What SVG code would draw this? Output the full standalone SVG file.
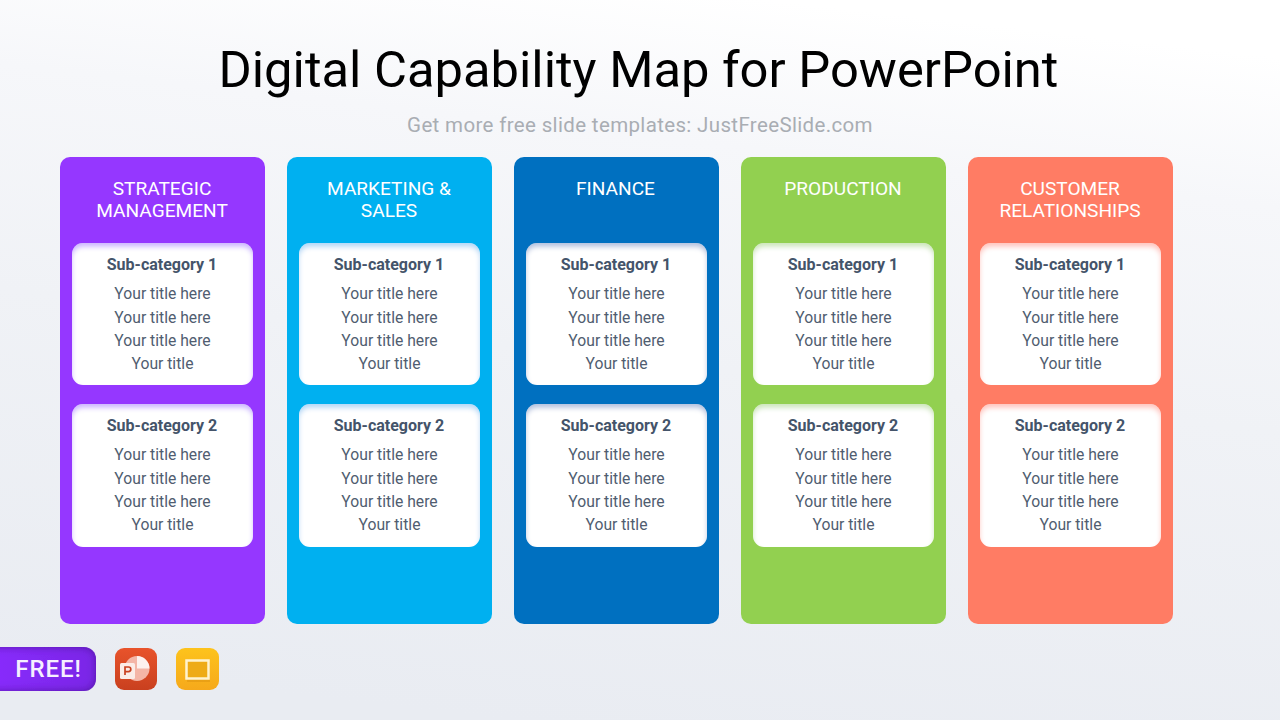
<svg xmlns="http://www.w3.org/2000/svg" width="1280" height="720" viewBox="0 0 1280 720">
<style>
text{font-family:Roboto,"Liberation Sans",sans-serif;text-anchor:middle}
.title{font-size:50.7px;fill:#000}
.sub{font-size:20.5px;fill:#a9adb3;letter-spacing:.35px}
.head{font-size:19.1px;fill:#fff}
.cat{font-size:16px;font-weight:700;fill:#44546a}
.item{font-size:15.7px;fill:#505d70}
.card{fill:#fff}
</style>
<defs>
<linearGradient id="bg" x1=".6" y1="0" x2=".4" y2="1"><stop offset="0" stop-color="#ffffff"/><stop offset=".2" stop-color="#f6f7fa"/><stop offset=".5" stop-color="#f0f2f6"/><stop offset="1" stop-color="#e9ecf2"/></linearGradient>
<linearGradient id="free" x1="0" y1="0" x2="1" y2="0"><stop offset="0" stop-color="#8a2cff"/><stop offset="1" stop-color="#7a26e6"/></linearGradient>
<linearGradient id="pp" x1="0" y1="0" x2="0" y2="1"><stop offset="0" stop-color="#e8532b"/><stop offset="1" stop-color="#c9401f"/></linearGradient>
<linearGradient id="gs" x1="0" y1="0" x2="0" y2="1"><stop offset="0" stop-color="#fdc31c"/><stop offset="1" stop-color="#f6a91b"/></linearGradient>
<filter id="s1" x="-5%" y="-5%" width="110%" height="110%"><feGaussianBlur in="SourceAlpha" stdDeviation="2.500"/><feOffset dy="3.500"/><feComposite in="SourceAlpha" operator="out" result="e"/><feFlood flood-color="#9537ff" flood-opacity=".55"/><feComposite in2="e" operator="in"/><feComposite in2="SourceGraphic" operator="over"/></filter>
<filter id="s2" x="-5%" y="-5%" width="110%" height="110%"><feGaussianBlur in="SourceAlpha" stdDeviation="2.500"/><feOffset dy="3.500"/><feComposite in="SourceAlpha" operator="out" result="e"/><feFlood flood-color="#00b0f0" flood-opacity=".55"/><feComposite in2="e" operator="in"/><feComposite in2="SourceGraphic" operator="over"/></filter>
<filter id="s3" x="-5%" y="-5%" width="110%" height="110%"><feGaussianBlur in="SourceAlpha" stdDeviation="2.500"/><feOffset dy="3.500"/><feComposite in="SourceAlpha" operator="out" result="e"/><feFlood flood-color="#0070c0" flood-opacity=".55"/><feComposite in2="e" operator="in"/><feComposite in2="SourceGraphic" operator="over"/></filter>
<filter id="s4" x="-5%" y="-5%" width="110%" height="110%"><feGaussianBlur in="SourceAlpha" stdDeviation="2.500"/><feOffset dy="3.500"/><feComposite in="SourceAlpha" operator="out" result="e"/><feFlood flood-color="#92d050" flood-opacity=".55"/><feComposite in2="e" operator="in"/><feComposite in2="SourceGraphic" operator="over"/></filter>
<filter id="s5" x="-5%" y="-5%" width="110%" height="110%"><feGaussianBlur in="SourceAlpha" stdDeviation="2.500"/><feOffset dy="3.500"/><feComposite in="SourceAlpha" operator="out" result="e"/><feFlood flood-color="#ff7c64" flood-opacity=".55"/><feComposite in2="e" operator="in"/><feComposite in2="SourceGraphic" operator="over"/></filter>
<filter id="sf" x="-5%" y="-10%" width="110%" height="120%"><feGaussianBlur in="SourceAlpha" stdDeviation="4"/><feComposite in="SourceAlpha" operator="out" result="e"/><feFlood flood-color="#3a1080" flood-opacity=".8"/><feComposite in2="e" operator="in"/><feComposite in2="SourceGraphic" operator="over"/></filter>
</defs>
<rect width="1280" height="720" fill="url(#bg)"/>
<text class="title" x="638.500" y="87">Digital Capability Map for PowerPoint</text>
<text class="sub" x="640" y="132">Get more free slide templates: JustFreeSlide.com</text>

<g id="col-strategic">
<rect x="60" y="157" width="205" height="467" rx="10" fill="#9537ff"/>
<text class="head" x="162" y="195">STRATEGIC</text><text class="head" x="162" y="217">MANAGEMENT</text>
<g id="strategic-sub1"><rect class="card" x="72" y="243" width="181" height="142" rx="11" filter="url(#s1)"/>
<text class="cat" x="162" y="270">Sub-category 1</text><text class="item" x="162.500" y="299">Your title here</text><text class="item" x="162.500" y="323">Your title here</text><text class="item" x="162.500" y="346">Your title here</text><text class="item" x="162.500" y="369">Your title</text></g>
<g id="strategic-sub2"><rect class="card" x="72" y="404" width="181" height="143" rx="11" filter="url(#s1)"/>
<text class="cat" x="162" y="431">Sub-category 2</text><text class="item" x="162.500" y="460">Your title here</text><text class="item" x="162.500" y="484">Your title here</text><text class="item" x="162.500" y="507">Your title here</text><text class="item" x="162.500" y="530">Your title</text></g>
</g>

<g id="col-marketing">
<rect x="287" y="157" width="205" height="467" rx="10" fill="#00b0f0"/>
<text class="head" x="389" y="195">MARKETING &amp;</text><text class="head" x="389" y="217">SALES</text>
<g id="marketing-sub1"><rect class="card" x="299" y="243" width="181" height="142" rx="11" filter="url(#s2)"/>
<text class="cat" x="389" y="270">Sub-category 1</text><text class="item" x="389.500" y="299">Your title here</text><text class="item" x="389.500" y="323">Your title here</text><text class="item" x="389.500" y="346">Your title here</text><text class="item" x="389.500" y="369">Your title</text></g>
<g id="marketing-sub2"><rect class="card" x="299" y="404" width="181" height="143" rx="11" filter="url(#s2)"/>
<text class="cat" x="389" y="431">Sub-category 2</text><text class="item" x="389.500" y="460">Your title here</text><text class="item" x="389.500" y="484">Your title here</text><text class="item" x="389.500" y="507">Your title here</text><text class="item" x="389.500" y="530">Your title</text></g>
</g>

<g id="col-finance">
<rect x="514" y="157" width="205" height="467" rx="10" fill="#0070c0"/>
<text class="head" x="615.500" y="195">FINANCE</text>
<g id="finance-sub1"><rect class="card" x="526" y="243" width="181" height="142" rx="11" filter="url(#s3)"/>
<text class="cat" x="616" y="270">Sub-category 1</text><text class="item" x="616.500" y="299">Your title here</text><text class="item" x="616.500" y="323">Your title here</text><text class="item" x="616.500" y="346">Your title here</text><text class="item" x="616.500" y="369">Your title</text></g>
<g id="finance-sub2"><rect class="card" x="526" y="404" width="181" height="143" rx="11" filter="url(#s3)"/>
<text class="cat" x="616" y="431">Sub-category 2</text><text class="item" x="616.500" y="460">Your title here</text><text class="item" x="616.500" y="484">Your title here</text><text class="item" x="616.500" y="507">Your title here</text><text class="item" x="616.500" y="530">Your title</text></g>
</g>

<g id="col-production">
<rect x="741" y="157" width="205" height="467" rx="10" fill="#92d050"/>
<text class="head" x="843" y="195">PRODUCTION</text>
<g id="production-sub1"><rect class="card" x="753" y="243" width="181" height="142" rx="11" filter="url(#s4)"/>
<text class="cat" x="843" y="270">Sub-category 1</text><text class="item" x="843.500" y="299">Your title here</text><text class="item" x="843.500" y="323">Your title here</text><text class="item" x="843.500" y="346">Your title here</text><text class="item" x="843.500" y="369">Your title</text></g>
<g id="production-sub2"><rect class="card" x="753" y="404" width="181" height="143" rx="11" filter="url(#s4)"/>
<text class="cat" x="843" y="431">Sub-category 2</text><text class="item" x="843.500" y="460">Your title here</text><text class="item" x="843.500" y="484">Your title here</text><text class="item" x="843.500" y="507">Your title here</text><text class="item" x="843.500" y="530">Your title</text></g>
</g>

<g id="col-customer">
<rect x="968" y="157" width="205" height="467" rx="10" fill="#ff7c64"/>
<text class="head" x="1070" y="195">CUSTOMER</text><text class="head" x="1070" y="217">RELATIONSHIPS</text>
<g id="customer-sub1"><rect class="card" x="980" y="243" width="181" height="142" rx="11" filter="url(#s5)"/>
<text class="cat" x="1070" y="270">Sub-category 1</text><text class="item" x="1070.500" y="299">Your title here</text><text class="item" x="1070.500" y="323">Your title here</text><text class="item" x="1070.500" y="346">Your title here</text><text class="item" x="1070.500" y="369">Your title</text></g>
<g id="customer-sub2"><rect class="card" x="980" y="404" width="181" height="143" rx="11" filter="url(#s5)"/>
<text class="cat" x="1070" y="431">Sub-category 2</text><text class="item" x="1070.500" y="460">Your title here</text><text class="item" x="1070.500" y="484">Your title here</text><text class="item" x="1070.500" y="507">Your title here</text><text class="item" x="1070.500" y="530">Your title</text></g>
</g>

<g id="free-badge">
<path d="M-20 647H84A12 12 0 0 1 96 659V679A12 12 0 0 1 84 691H-20Z" fill="url(#free)" filter="url(#sf)"/>
<text x="48.500" y="677" font-size="24" font-weight="500" fill="#f6efff" style="letter-spacing:.9px">FREE!</text>
</g>
<g id="powerpoint-icon">
<rect x="115" y="648" width="42" height="42" rx="9" fill="url(#pp)"/>
<circle cx="137" cy="668.500" r="12.500" fill="#f4b5a6"/>
<path d="M137 656A12.500 12.500 0 0 1 149.500 668.500H137Z" fill="#fdf1ee"/>
<rect x="120" y="663" width="15" height="16" rx="1.500" fill="#fbece7"/>
<path d="M125 675V667H128.500A2.300 2.300 0 0 1 128.500 671.600H125" fill="none" stroke="#c9401f" stroke-width="1.700"/>
</g>
<g id="slides-icon">
<rect x="176" y="648" width="43" height="42" rx="9" fill="url(#gs)"/>
<rect x="187" y="662" width="23" height="20" fill="#d9900f" opacity=".45"/>
<rect x="186.500" y="660.500" width="22" height="18" fill="#eeab17" stroke="#fff3cf" stroke-width="2.500"/>
</g>
</svg>
